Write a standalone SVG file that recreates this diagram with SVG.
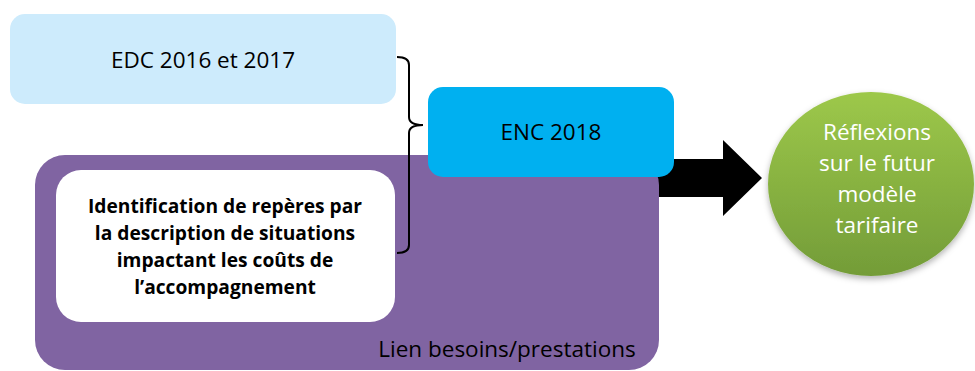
<svg xmlns="http://www.w3.org/2000/svg" width="975" height="371" viewBox="0 0 975 371">
<style>
  text { font-family: "Open Sans", "Liberation Sans", sans-serif; text-anchor: middle; }
  .lbl { font-size: 22.5px; fill: #000; }
  .bold { font-size: 19.2px; font-weight: bold; fill: #000; }
  .wt { font-size: 22.5px; fill: #fff; }
</style>
<defs>
  <linearGradient id="g" x1="0" y1="0" x2="0" y2="1">
    <stop offset="0" stop-color="#9dc84a"/>
    <stop offset="1" stop-color="#739c38"/>
  </linearGradient>
  <filter id="sh" x="-20%" y="-20%" width="140%" height="140%">
    <feDropShadow dx="0" dy="3" stdDeviation="3" flood-color="#000" flood-opacity="0.3"/>
  </filter>
</defs>
<g id="connectors">
  <polygon points="640,159 723,159 723,140 762,178 723,216 723,197 640,197" fill="#000"/>
</g>
<g id="edc">
  <rect x="10" y="14" width="386" height="90" rx="15" fill="#cdebfc"/>
  <text class="lbl" x="203" y="68">EDC 2016 et 2017</text>
</g>
<g id="lien">
  <rect x="35" y="155" width="624" height="215" rx="30" fill="#8064a2"/>
  <text class="lbl" x="507" y="357">Lien besoins/prestations</text>
</g>
<g id="identification">
  <rect x="56" y="170" width="339" height="152" rx="25" fill="#fff"/>
  <text class="bold" x="225" y="213">Identification de repères par</text>
  <text class="bold" x="225" y="240">la description de situations</text>
  <text class="bold" x="225" y="267">impactant les coûts de</text>
  <text class="bold" x="225" y="294">l’accompagnement</text>
</g>
<g id="enc">
  <rect x="428" y="87" width="246" height="90" rx="15" fill="#00b0f0"/>
  <text class="lbl" x="551" y="140">ENC 2018</text>
</g>
<g id="brace">
  <path d="M397,57 Q409,57 409,65 L409,117 Q409,125 423,125 Q409,125 409,133 L409,245 Q409,253 397,253" fill="none" stroke="#000" stroke-width="2"/>
</g>
<g id="reflexions">
  <ellipse cx="871" cy="184" rx="103" ry="92" fill="url(#g)" filter="url(#sh)"/>
  <text class="wt" x="877" y="140">Réflexions</text>
  <text class="wt" x="877" y="171">sur le futur</text>
  <text class="wt" x="877" y="202">modèle</text>
  <text class="wt" x="877" y="233">tarifaire</text>
</g>
</svg>
